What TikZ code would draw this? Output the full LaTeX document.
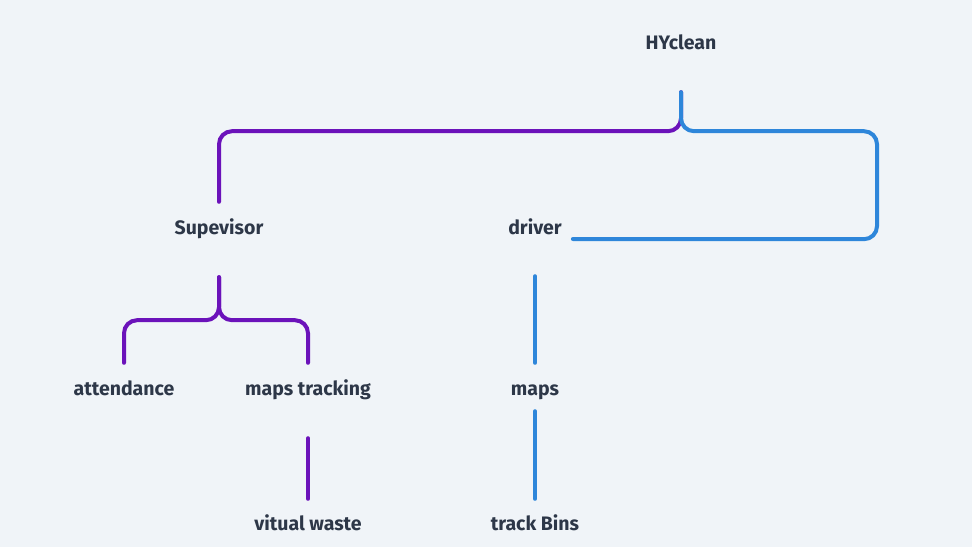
\documentclass[tikz,border=0pt]{standalone}
\usepackage{fontspec}
\setmainfont{Fira Sans}
\usepackage{tikz}
\definecolor{bgcol}{HTML}{F0F4F8}
\definecolor{textcol}{HTML}{2D3748}
\definecolor{purp}{HTML}{6B12BA}
\definecolor{blu}{HTML}{2E86DA}

\begin{document}
\begin{tikzpicture}[x=1pt,y=-1pt,
  lbl/.style={font=\fontsize{19.5}{22}\selectfont\bfseries, text=textcol,
    inner sep=0pt, text height=13pt, text depth=4pt},
  purpline/.style={draw=purp, line width=4pt, line cap=round, rounded corners=13pt},
  blueline/.style={draw=blu, line width=4pt, line cap=round, rounded corners=13pt}]

\fill[bgcol] (0,0) rectangle (972,547);
\useasboundingbox (0,0) rectangle (972,547);

\node[lbl] (hy) at (681,45) {HYclean};
\node[lbl] (sup) at (219,230) {Supevisor};
\node[lbl] (dr) at (535,230) {driver};
\node[lbl] (att) at (124,391) {attendance};
\node[lbl] (mt) at (308,391) {maps tracking};
\node[lbl] (maps) at (535,391) {maps};
\node[lbl] (vw) at (308,526) {vitual waste};
\node[lbl] (tb) at (535,526) {track Bins};

% top level
\draw[purpline] ([yshift=-38.5pt]hy.south) -- ++(0,39) -| ([yshift=19.5pt]sup.north);
\draw[blueline] ([yshift=-38.5pt]hy.south) -- ++(0,39) -| ++(196,108) -- ([xshift=11pt,yshift=-9pt]dr.east);

% supervisor
\draw[purpline] ([yshift=-38.5pt]sup.south) -- ++(0,43) -| ([yshift=19.5pt]att.north);
\draw[purpline] ([yshift=-38.5pt]sup.south) -- ++(0,43) -| ([yshift=19.5pt]mt.north);
\draw[purpline] ([yshift=-38.5pt]mt.south) -- ([yshift=18.5pt]vw.north);

% driver
\draw[blueline] ([yshift=-37.5pt]dr.south) -- ([yshift=19.5pt]maps.north);
\draw[blueline] ([yshift=-11.5pt]maps.south) -- ([yshift=18.5pt]tb.north);
\end{tikzpicture}
\end{document}
